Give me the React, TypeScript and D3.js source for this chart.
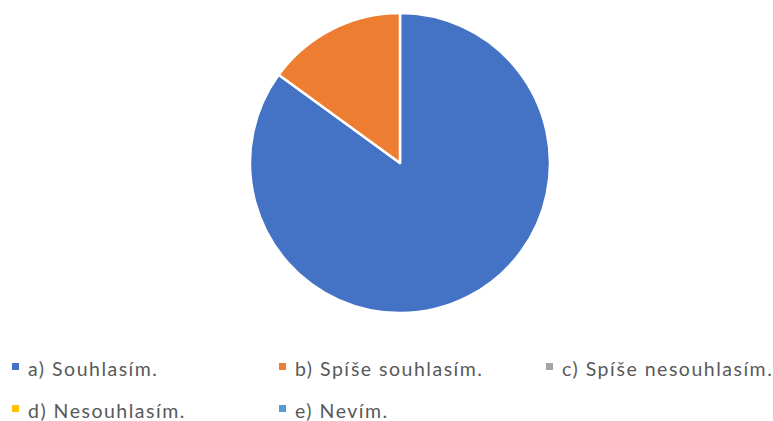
import React, { useEffect, useRef } from "react";
import * as d3 from "d3";

const categories = [
  "a) Souhlasím.",
  "b) Spíše souhlasím.",
  "c) Spíše nesouhlasím.",
  "d) Nesouhlasím.",
  "e) Nevím.",
];
const values = [85, 15, 0, 0, 0];
const colors = ["#4472C4", "#ED7D31", "#A5A5A5", "#FFC000", "#5B9BD5"];

export default function App() {
  const ref = useRef<SVGSVGElement | null>(null);

  useEffect(() => {
    const cx = 400;
    const cy = 163;
    const r = 150;

    const svg = d3.select(ref.current);
    svg.selectAll("*").remove();

    const data = categories.map((name, i) => ({ name, value: values[i], color: colors[i] }));

    const pie = d3
      .pie<{ name: string; value: number; color: string }>()
      .sort(null)
      .value((d) => d.value);

    const arc = d3
      .arc<d3.PieArcDatum<{ name: string; value: number; color: string }>>()
      .innerRadius(0)
      .outerRadius(r);

    svg
      .append("g")
      .attr("transform", `translate(${cx},${cy})`)
      .selectAll("path")
      .data(pie(data).filter((d) => d.value > 0))
      .join("path")
      .attr("d", arc)
      .attr("fill", (d) => d.data.color)
      .attr("stroke", "#ffffff")
      .attr("stroke-width", 2.5)
      .attr("stroke-linejoin", "round");

    // legend: 3 columns, 2 rows (baseline positions)
    const colX = [12, 279, 546];
    const rowY = [376, 418];
    const items = svg
      .append("g")
      .selectAll("g")
      .data(data)
      .join("g")
      .attr("transform", (_d, i) => `translate(${colX[i % 3]},${rowY[Math.floor(i / 3)]})`);

    items
      .append("rect")
      .attr("x", 0)
      .attr("y", -13)
      .attr("width", 7)
      .attr("height", 7)
      .attr("fill", (d) => d.color);

    items
      .append("text")
      .attr("x", 16)
      .attr("y", 0)
      .attr("fill", "#595959")
      .style("font-family", "Lato, 'Open Sans', sans-serif")
      .style("font-size", "19.5px")
      .style("letter-spacing", "1.5px")
      .text((d) => d.name);
  }, []);

  return (
    <svg
      ref={ref}
      width={773}
      height={421}
      style={{ position: "absolute", left: 0, top: 0, background: "#ffffff" }}
    />
  );
}
